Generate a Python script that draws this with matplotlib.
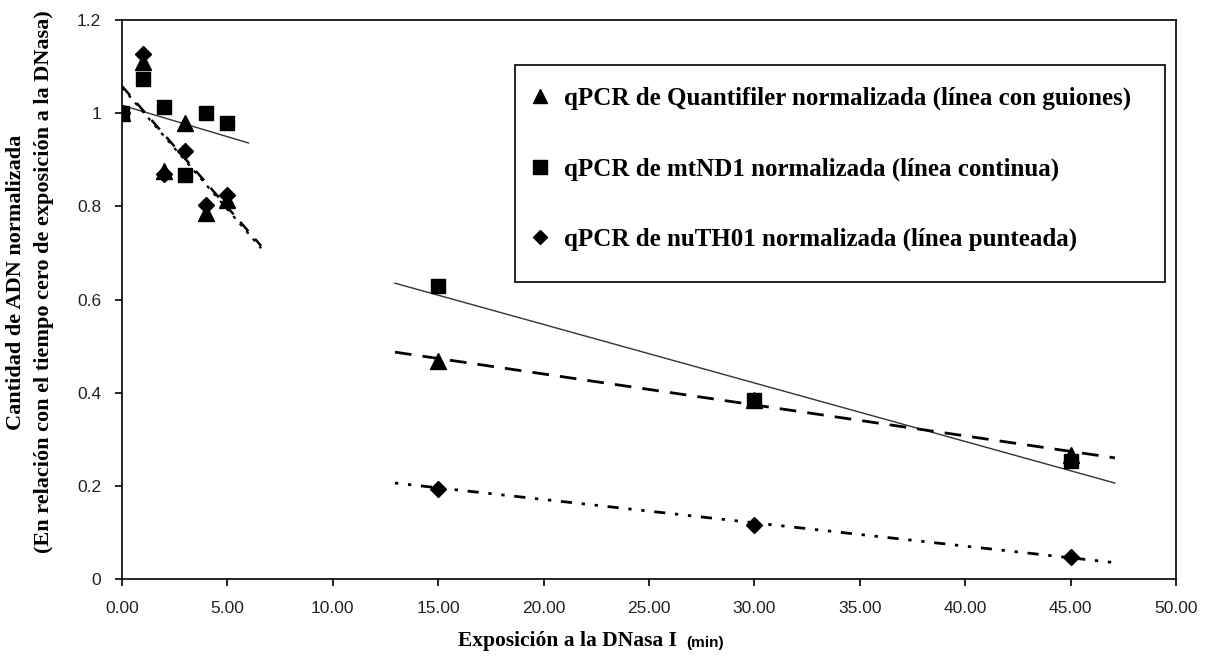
import matplotlib
matplotlib.use("Agg")
import matplotlib.pyplot as plt
from matplotlib.lines import Line2D
from matplotlib.patches import Rectangle

# exposure time (min)
time = [0, 1, 2, 3, 4, 5, 15, 30, 45]

# normalized DNA quantity per assay
quantifiler = [1.0, 1.11, 0.875, 0.978, 0.785, 0.813, 0.468, 0.385, 0.266]
mtnd1 = [1.0, 1.073, 1.013, 0.867, 1.0, 0.978, 0.629, 0.384, 0.253]
nuth01 = [1.0, 1.128, 0.87, 0.919, 0.802, 0.824, 0.193, 0.116, 0.047]

# trend line end points (early phase / late phase)
early_solid_x = [0, 6.0]
early_solid_y = [1.017, 0.936]
early_steep_x = [0, 6.6]
early_dash_y = [1.058, 0.715]
early_dot_y = [1.055, 0.71]
late_x = [12.95, 47.1]
late_solid_y = [0.635, 0.206]
late_dash_y = [0.487, 0.26]
late_dot_y = [0.206, 0.035]

xticks = [0, 5, 10, 15, 20, 25, 30, 35, 40, 45, 50]
yticks = [0, 0.2, 0.4, 0.6, 0.8, 1.0, 1.2]
ytick_labels = ["0", "0.2", "0.4", "0.6", "0.8", "1", "1.2"]

labels = [
    "qPCR de Quantifiler normalizada (línea con guiones)",
    "qPCR de mtND1 normalizada (línea continua)",
    "qPCR de nuTH01 normalizada (línea punteada)",
]

serif = ["Liberation Serif", "DejaVu Serif"]
sans = ["Liberation Sans", "DejaVu Sans"]

fig = plt.figure(figsize=(12.09, 6.57), dpi=100)
ax = fig.add_axes([122 / 1209, 1 - 579 / 657, (1176 - 122) / 1209, (579 - 20) / 657])

# trend lines
ax.plot(early_solid_x, early_solid_y, color="#333333", lw=1.0)
ax.plot(late_x, late_solid_y, color="#333333", lw=1.0)
ax.plot(early_steep_x, early_dash_y, color="black", lw=1.8, dashes=(5, 4))
ax.plot(late_x, late_dash_y, color="black", lw=2.0, dashes=(6, 4))
ax.plot(early_steep_x, early_dot_y, color="black", lw=1.6, dashes=(1.5, 3))
ax.plot(late_x, late_dot_y, color="black", lw=2.0, dashes=(1.2, 3.5, 1.2, 3.5, 4, 3.5))

# markers
ax.plot(time, quantifiler, ls="none", marker="^", ms=11, color="black", zorder=3)
ax.plot(time, mtnd1, ls="none", marker="s", ms=10.5, color="black", zorder=4)
ax.plot(time, nuth01, ls="none", marker="D", ms=8, color="black", zorder=5)

ax.set_xlim(0, 50)
ax.set_ylim(0, 1.2)
ax.set_xticks(xticks)
ax.set_xticklabels([f"{v:.2f}" for v in xticks], family=sans, fontsize=12.5, color="#222222")
ax.set_yticks(yticks)
ax.set_yticklabels(ytick_labels, family=sans, fontsize=12.5, color="#222222")
ax.tick_params(axis="x", direction="out", length=5, width=1.2, pad=11)
ax.tick_params(axis="y", direction="out", length=5, width=1.2, pad=10)
for s in ax.spines.values():
    s.set_linewidth(1.2)

fig.text(30 / 1209, 1 - 282 / 657,
         "Cantidad de ADN normalizada\n(En relación con el tiempo cero de exposición a la DNasa)",
         family=serif, fontweight="bold", fontsize=16, linespacing=1.5,
         rotation=90, ha="center", va="center", multialignment="center")
fig.text(567 / 1209, 1 - 641 / 657, "Exposición a la DNasa I",
         family=serif, fontweight="bold", fontsize=15.5, ha="center", va="center")
fig.text(686 / 1209, 1 - 643 / 657, "(min)",
         family=sans, fontweight="bold", fontsize=11, ha="left", va="center")

# legend box
ax.add_patch(Rectangle((0.373, 0.5313), 0.6167, 0.3882, transform=ax.transAxes,
                       facecolor="white", edgecolor="black", lw=1.2, zorder=6))

handles = [
    Line2D([], [], ls="none", marker="^", ms=10, color="black"),
    Line2D([], [], ls="none", marker="s", ms=10, color="black"),
    Line2D([], [], ls="none", marker="D", ms=7, color="black"),
]
leg = ax.legend(
    handles, labels, loc="upper left",
    bbox_to_anchor=((531 - 122) / 1054, (579 - 87) / 559),
    prop={"family": serif, "weight": "bold", "size": 18},
    frameon=False, labelspacing=1.88, handlelength=0.7, handletextpad=0.6,
    borderpad=0, borderaxespad=0,
)
leg.set_zorder(7)

fig.savefig("out.png", dpi=100)
